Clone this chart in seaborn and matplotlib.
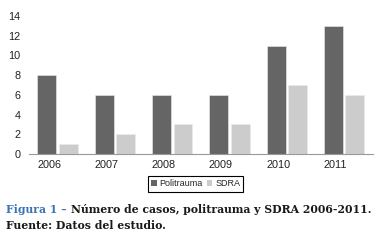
import matplotlib
matplotlib.use("Agg")
import matplotlib.pyplot as plt
from matplotlib.patches import Patch
import seaborn as sns
import pandas as pd
import numpy as np

years = ["2006", "2007", "2008", "2009", "2010", "2011"]
politrauma = [8, 6, 6, 6, 11, 13]
sdra = [1, 2, 3, 3, 7, 6]
series_names = ["Politrauma", "SDRA"]
colors = ["#666565", "#cccccc"]

df = pd.DataFrame({
    "Año": years * 2,
    "Casos": politrauma + sdra,
    "Serie": [series_names[0]] * len(years) + [series_names[1]] * len(years),
})

sns.set_style("white")
plt.rcParams["font.family"] = ["Liberation Sans", "DejaVu Sans"]

fig = plt.figure(figsize=(3.77, 2.45), dpi=100)
ax = fig.add_axes([0.077, 0.371, 0.912, 0.564])

sns.barplot(data=df, x="Año", y="Casos", hue="Serie", palette=colors,
            width=0.75, gap=0.12, ax=ax, legend=False, saturation=1,
            edgecolor="#ececec", linewidth=0.4)

ax.set_ylim(0, 14)
ax.set_yticks(range(0, 15, 2))
ax.set_xticks(np.arange(len(years)) - 0.15)
ax.set_xticklabels(years)
ax.set_xlabel("")
ax.set_ylabel("")
ax.tick_params(axis="both", length=0, labelsize=7.8, colors="#222222")
ax.tick_params(axis="y", pad=6)
ax.tick_params(axis="x", pad=4)
for s in ["top", "right", "left"]:
    ax.spines[s].set_visible(False)
ax.spines["bottom"].set_color("#999999")
ax.spines["bottom"].set_linewidth(0.8)
ax.set_xlim(-0.5, len(years) - 0.5)

handles = [Patch(facecolor=c, edgecolor="none") for c in colors]
fig.legend(handles, series_names, loc="center", bbox_to_anchor=(0.519, 0.249),
           ncol=2, fontsize=6.5, frameon=True, fancybox=False, edgecolor="black",
           framealpha=1, handlelength=0.6, handleheight=0.6, handletextpad=0.3,
           columnspacing=0.5, borderpad=0.35).get_frame().set_linewidth(0.8)

# caption
cap_font = dict(family="DejaVu Serif", fontweight="bold", fontsize=7.85)
t1 = fig.text(0.016, 1 - 209 / 245, "Figura 1 \u2013", color="#3a74b4",
              va="center", ha="left", **cap_font)
fig.canvas.draw()
bb = t1.get_window_extent()
x_next = (bb.x1 + 4) / fig.bbox.width
fig.text(x_next, 1 - 209 / 245, "Número de casos, politrauma y SDRA 2006-2011.",
         color="#1a1a1a", va="center", ha="left", **cap_font)
fig.text(0.016, 1 - 225 / 245, "Fuente: Datos del estudio.", color="#1a1a1a",
         va="center", ha="left", **cap_font)

fig.savefig("out.png", dpi=100)
